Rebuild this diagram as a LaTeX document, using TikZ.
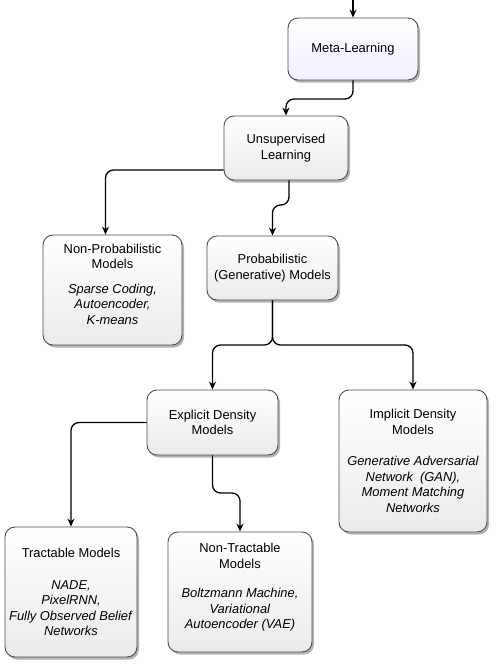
\documentclass[tikz,border=0pt]{standalone}
\usepackage{fontspec}
\setmainfont{Liberation Sans}
\usetikzlibrary{arrows.meta,shadows,calc}
\tikzset{
  box/.style={draw=black!70, line width=0.9pt, rounded corners=10pt, align=center,
    top color=white, bottom color=black!8, drop shadow={shadow xshift=2pt, shadow yshift=-2.5pt, fill=black!50, opacity=0.6},
    font=\fontsize{12.9}{15.5}\selectfont, inner sep=1pt},
  metabox/.style={box, top color=white, bottom color=blue!6},
  conn/.style={line width=1.3pt, rounded corners=8pt, -{Stealth[length=8pt,width=7pt]}}
}
\begin{document}
\begin{tikzpicture}[x=1pt,y=-1pt]
\useasboundingbox (0,0) rectangle (500,670);
\node[metabox, minimum width=130pt, minimum height=62pt] (meta) at (353,49) {Meta-Learning};
\node[box, minimum width=124pt, minimum height=64pt] (unsup) at (286,148) {Unsupervised\\Learning};
\node[box, minimum width=139pt, minimum height=110pt] (nonprob) at (112.5,290) {Non-Probabilistic\\Models\\[9pt]\textit{Sparse Coding,}\\\textit{Autoencoder,}\\\textit{K-means}\\[-3.5pt]};
\node[box, minimum width=131pt, minimum height=64pt] (prob) at (272.5,268) {Probabilistic\\(Generative) Models};
\node[box, minimum width=131pt, minimum height=65pt] (expl) at (212.5,422.5) {Explicit Density\\Models};
\node[box, minimum width=148pt, minimum height=142pt] (impl) at (413,461) {Implicit Density\\Models\\[16pt]\textit{Generative Adversarial}\\\textit{Network\ \ (GAN),}\\\textit{Moment Matching}\\\textit{Networks}};
\node[box, minimum width=132pt, minimum height=130pt] (tract) at (71,592) {Tractable Models\\[16pt]\textit{NADE,}\\\textit{PixelRNN,}\\\textit{Fully Observed Belief}\\\textit{Networks}};
\node[box, minimum width=144pt, minimum height=120pt] (nontract) at (240,592) {Non-Tractable\\Models\\[14pt]\textit{Boltzmann Machine,}\\\textit{Variational}\\\textit{Autoencoder (VAE)}\\[-4pt]};
\coordinate (top) at (353,0);
\draw[conn] (top) -- (meta.north);
\draw[conn] (meta.south) -- ($(meta.south |- 0,99)$) -| (unsup.north);
\draw[conn] ($(unsup.west)+(0,22)$) -| ([xshift=-7pt]nonprob.north);
\draw[conn] ([xshift=3pt]unsup.south) -- ($([xshift=3pt]unsup.south |- 0,205)$) -| (prob.north);
\draw[conn] (prob.south) -- ($(prob.south |- 0,345)$) -| (expl.north);
\draw[conn] (prob.south) -- ($(prob.south |- 0,345)$) -| (impl.north);
\draw[conn] (expl.west) -| (tract.north);
\draw[conn] (expl.south) -- ($(expl.south |- 0,493)$) -| (nontract.north);
\end{tikzpicture}
\end{document}
